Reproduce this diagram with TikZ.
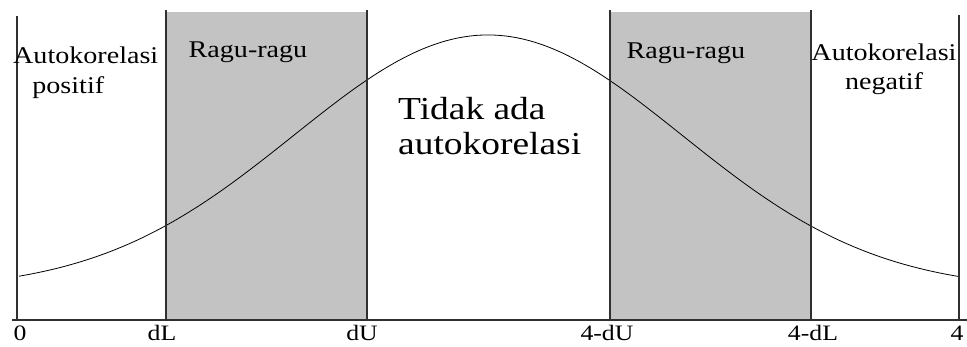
\documentclass[tikz,border=0pt]{standalone}
\usepackage{fontspec}
\newfontfamily\tnr[FakeStretch=1.17]{Liberation Serif}
\usetikzlibrary{positioning}
\definecolor{ragu}{HTML}{C3C3C3}
\definecolor{garis}{HTML}{303030}

\begin{document}
\begin{tikzpicture}[x=1pt,y=1pt,
  lbl/.style={font=\tnr\fontsize{24}{29}\selectfont,inner sep=0pt,anchor=base},
  big/.style={font=\tnr\fontsize{32}{35}\selectfont,inner sep=0pt,align=left,anchor=base west},
  tick/.style={font=\tnr\fontsize{22}{24}\selectfont,inner sep=0pt,anchor=base},
  batas/.style={draw=garis,line width=1.2pt}]
\useasboundingbox (0,0) rectangle (967,346);
% titik pada sumbu
\coordinate (ax0) at (12,26); \coordinate (ax1) at (967,26);
\coordinate (o) at (17,26);   \coordinate (ot) at (17,330);
\coordinate (dL) at (166,26); \coordinate (dLt) at (166,336);
\coordinate (dU) at (367,26); \coordinate (dUt) at (367,336);
\coordinate (eU) at (610,26); \coordinate (eUt) at (610,336);
\coordinate (eL) at (811,26); \coordinate (eLt) at (811,336);
\coordinate (e) at (959,26);  \coordinate (et) at (959,331);
% daerah ragu-ragu
\fill[ragu] (dL) rectangle ([yshift=308pt]dU);
\fill[ragu] (eU) rectangle ([yshift=308pt]eL);
% kurva
\draw[line width=0.8pt] plot[domain=19:958,samples=120,smooth]
  ({\x},{56+255*exp(-0.1326*((\x-488)/100)*((\x-488)/100))});
\draw[batas] (o)--(ot); \draw[batas] (dL)--(dLt); \draw[batas] (dU)--(dUt);
\draw[batas] (eU)--(eUt); \draw[batas] (eL)--(eLt); \draw[batas] (e)--(et);
\draw[batas] (ax0)--(ax1);
% label daerah
\node[lbl,align=left,anchor=base west] (pos) at (13,253) {Autokorelasi\\\hspace{0.8em}positif};
\node[lbl] (rg1) at (248,288) {Ragu-ragu};
\node[big] (tak) at (398,191) {Tidak ada\\autokorelasi};
\node[lbl] (rg2) at (686,287) {Ragu-ragu};
\node[lbl,align=center] (neg) at (884,256) {Autokorelasi\\negatif};
% label sumbu
\node[tick] (t0) at (20,6) {0};
\node[tick] (t1) at (162,6) {dL};
\node[tick] (t2) at (362,6) {dU};
\node[tick] (t3) at (607,6) {4-dU};
\node[tick] (t4) at (813,6) {4-dL};
\node[tick] (t5) at (957,6) {4};
\end{tikzpicture}
\end{document}
